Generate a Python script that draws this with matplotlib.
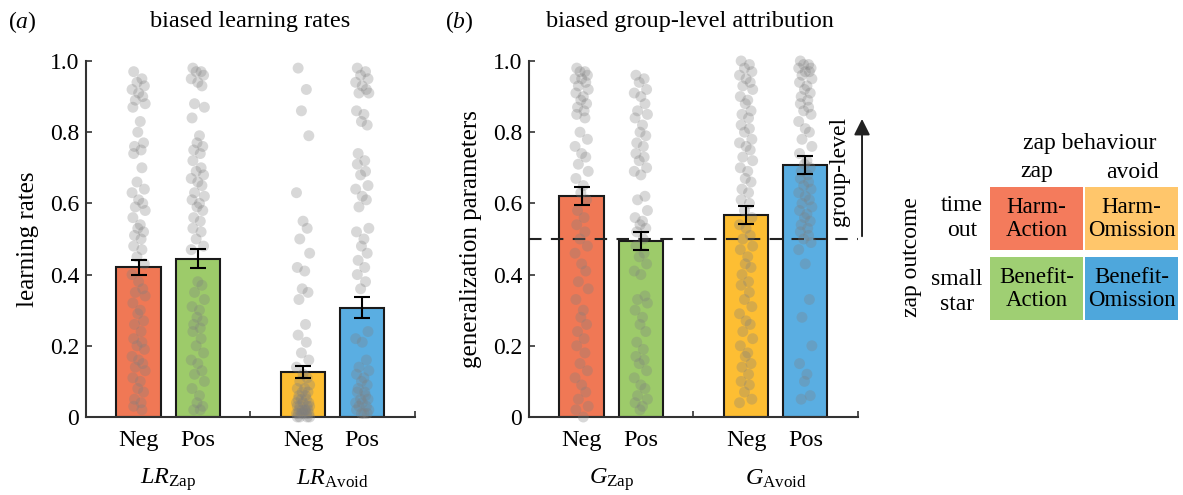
import numpy as np
import matplotlib.pyplot as plt
from matplotlib.patches import Rectangle
from matplotlib.transforms import blended_transform_factory

plt.rcParams['font.family'] = ['Liberation Serif', 'DejaVu Serif']
plt.rcParams['mathtext.fontset'] = 'custom'
plt.rcParams['mathtext.rm'] = 'Liberation Serif'
plt.rcParams['mathtext.it'] = 'Liberation Serif:italic'

# ---- data ----
cond_labels = ['Neg', 'Pos', 'Neg', 'Pos']
bar_colors = ['#f07855', '#9dcb6a', '#fdbe33', '#5aaee2']

lr_means = [0.42, 0.445, 0.127, 0.307]
lr_sem = [0.022, 0.027, 0.017, 0.030]
g_means = [0.62, 0.495, 0.568, 0.708]
g_sem = [0.025, 0.025, 0.025, 0.025]

lr_neg_zap = [0.97, 0.95, 0.94, 0.93, 0.92, 0.91, 0.90, 0.89, 0.88, 0.87, 0.83, 0.80, 0.77, 0.76,
              0.75, 0.74, 0.70, 0.66, 0.64, 0.63, 0.61, 0.60, 0.59, 0.58, 0.56, 0.54, 0.53, 0.52,
              0.51, 0.50, 0.48, 0.47, 0.45, 0.43, 0.40, 0.38, 0.36, 0.35, 0.34, 0.32, 0.30, 0.29,
              0.27, 0.26, 0.24, 0.22, 0.21, 0.20, 0.19, 0.17, 0.16, 0.15, 0.14, 0.13, 0.11, 0.10,
              0.08, 0.07, 0.05, 0.04, 0.03, 0.02]
lr_pos_zap = [0.98, 0.97, 0.97, 0.96, 0.95, 0.94, 0.93, 0.88, 0.87, 0.84, 0.79, 0.77, 0.76, 0.75,
              0.74, 0.72, 0.70, 0.69, 0.68, 0.67, 0.66, 0.65, 0.63, 0.62, 0.61, 0.60, 0.59, 0.58,
              0.56, 0.55, 0.53, 0.52, 0.50, 0.48, 0.47, 0.38, 0.37, 0.35, 0.33, 0.31, 0.30, 0.28,
              0.27, 0.26, 0.25, 0.24, 0.22, 0.20, 0.18, 0.16, 0.15, 0.13, 0.12, 0.10, 0.08, 0.06,
              0.04, 0.03, 0.02, 0.02]
lr_neg_avoid = [0.98, 0.92, 0.86, 0.79, 0.63, 0.55, 0.53, 0.50, 0.46, 0.42, 0.41, 0.36, 0.35, 0.33,
                0.26, 0.23, 0.21, 0.18, 0.16, 0.14, 0.12, 0.11, 0.10, 0.09, 0.08, 0.08, 0.07, 0.07,
                0.06, 0.06, 0.05, 0.05, 0.05, 0.04, 0.04, 0.04, 0.03, 0.03, 0.03, 0.03, 0.02, 0.02,
                0.02, 0.02, 0.02, 0.01, 0.01, 0.01, 0.01, 0.01, 0.01, 0.0, 0.0, 0.0, 0.0]
lr_pos_avoid = [0.98, 0.97, 0.96, 0.95, 0.94, 0.93, 0.92, 0.91, 0.91, 0.86, 0.85, 0.83, 0.82, 0.74,
                0.72, 0.71, 0.69, 0.68, 0.65, 0.64, 0.62, 0.61, 0.59, 0.53, 0.52, 0.50, 0.48, 0.46,
                0.44, 0.42, 0.40, 0.38, 0.36, 0.24, 0.22, 0.21, 0.16, 0.14, 0.13, 0.12, 0.11, 0.10,
                0.09, 0.08, 0.07, 0.07, 0.06, 0.05, 0.05, 0.04, 0.04, 0.03, 0.03, 0.02, 0.02, 0.01,
                0.01, 0.01]

g_neg_zap = [0.98, 0.97, 0.97, 0.96, 0.95, 0.95, 0.94, 0.93, 0.92, 0.91, 0.90, 0.89, 0.88, 0.87,
             0.86, 0.85, 0.84, 0.80, 0.78, 0.76, 0.74, 0.73, 0.71, 0.69, 0.67, 0.65, 0.63, 0.61,
             0.58, 0.56, 0.54, 0.52, 0.50, 0.48, 0.46, 0.43, 0.41, 0.38, 0.36, 0.33, 0.30, 0.28,
             0.26, 0.24, 0.22, 0.20, 0.18, 0.15, 0.13, 0.11, 0.09, 0.07, 0.05, 0.03, 0.02, 0.0]
g_pos_zap = [0.96, 0.95, 0.94, 0.92, 0.91, 0.90, 0.88, 0.86, 0.85, 0.84, 0.82, 0.80, 0.79, 0.77,
             0.76, 0.74, 0.73, 0.72, 0.70, 0.69, 0.68, 0.62, 0.61, 0.58, 0.56, 0.55, 0.54, 0.53,
             0.52, 0.50, 0.48, 0.46, 0.45, 0.43, 0.41, 0.40, 0.34, 0.33, 0.32, 0.30, 0.28, 0.26,
             0.24, 0.21, 0.19, 0.17, 0.16, 0.15, 0.13, 0.11, 0.09, 0.08, 0.06, 0.05, 0.04, 0.03,
             0.02]
g_neg_avoid = [1.0, 0.99, 0.98, 0.97, 0.96, 0.95, 0.94, 0.93, 0.92, 0.90, 0.89, 0.88, 0.86, 0.85,
               0.84, 0.82, 0.81, 0.80, 0.78, 0.77, 0.76, 0.75, 0.73, 0.72, 0.70, 0.69, 0.67, 0.66,
               0.64, 0.63, 0.61, 0.60, 0.58, 0.56, 0.54, 0.53, 0.51, 0.50, 0.48, 0.47, 0.45, 0.43,
               0.42, 0.40, 0.38, 0.37, 0.35, 0.33, 0.31, 0.29, 0.27, 0.26, 0.24, 0.22, 0.20, 0.18,
               0.17, 0.15, 0.14, 0.12, 0.10, 0.09, 0.07, 0.05, 0.04]
g_pos_avoid = [1.0, 0.99, 0.99, 0.98, 0.98, 0.97, 0.97, 0.96, 0.95, 0.94, 0.93, 0.92, 0.91, 0.90,
               0.89, 0.88, 0.87, 0.86, 0.85, 0.83, 0.81, 0.80, 0.78, 0.76, 0.74, 0.72, 0.71, 0.70,
               0.69, 0.68, 0.67, 0.66, 0.65, 0.64, 0.63, 0.62, 0.61, 0.60, 0.59, 0.58, 0.57, 0.56,
               0.55, 0.54, 0.53, 0.52, 0.51, 0.50, 0.49, 0.47, 0.43, 0.33, 0.28, 0.20, 0.15, 0.12,
               0.10, 0.06, 0.05]

jitter = [-0.03, 0.02, -0.01, 0.035, -0.04, 0.0, 0.025, -0.02, 0.04, -0.035, 0.01, -0.005, 0.03,
          -0.025, 0.015]

lr_points = [lr_neg_zap, lr_pos_zap, lr_neg_avoid, lr_pos_avoid]
g_points = [g_neg_zap, g_pos_zap, g_neg_avoid, g_pos_avoid]

xpos = [0.82, 1.18, 1.82, 2.18]
group_x = [1.0, 2.0]


def draw_panel(ax, means, sems, points, ylabel, group_labels):
    ax.bar(xpos, means, width=0.27, color=bar_colors, edgecolor='#1a1a1a', linewidth=1.5, zorder=2)
    for x, pts in zip(xpos, points):
        jx = [x + jitter[i % len(jitter)] for i in range(len(pts))]
        ax.scatter(jx, pts, s=62, color='#7f7f7f', alpha=0.3, edgecolors='none', zorder=4,
                   clip_on=False)
    ax.errorbar(xpos, means, yerr=sems, fmt='none', ecolor='black', elinewidth=1.5, capsize=5.5,
                capthick=1.5, zorder=5)
    ax.set_xlim(0.5, 2.5)
    ax.set_ylim(0, 1)
    ax.set_yticks([0, 0.2, 0.4, 0.6, 0.8, 1.0])
    ax.set_yticklabels(['0', '0.2', '0.4', '0.6', '0.8', '1.0'], fontsize=17)
    ax.set_xticks([0.5, 1.5, 2.5])
    ax.set_xticklabels([])
    ax.tick_params(direction='in', length=4, width=1.2, color='#333333', pad=5)
    for s in ['top', 'right']:
        ax.spines[s].set_visible(False)
    for s in ['left', 'bottom']:
        ax.spines[s].set_color('#333333')
        ax.spines[s].set_linewidth(1.5)
    ax.set_ylabel(ylabel, fontsize=18, labelpad=8)
    tr = blended_transform_factory(ax.transData, ax.transAxes)
    for x, lab in zip(xpos, cond_labels):
        ax.text(x, -0.067, lab, transform=tr, ha='center', va='center', fontsize=17.5)
    for x, lab in zip(group_x, group_labels):
        ax.text(x, -0.175, lab, transform=tr, ha='center', va='center', fontsize=17.5)


fig = plt.figure(figsize=(11.83, 4.95), dpi=100)
ax1 = fig.add_axes([0.0727, 0.1576, 0.278, 0.7192])
ax2 = fig.add_axes([0.4472, 0.1576, 0.278, 0.7192])

draw_panel(ax1, lr_means, lr_sem, lr_points, 'learning rates',
           [r'$LR_{\mathrm{Zap}}$', r'$LR_{\mathrm{Avoid}}$'])
draw_panel(ax2, g_means, g_sem, g_points, 'generalization parameters',
           [r'$G_{\mathrm{Zap}}$', r'$G_{\mathrm{Avoid}}$'])

# reference line and arrow in panel b
ax2.plot([0.5, 2.5], [0.5, 0.5], linestyle=(0, (6, 4.5)), color='#222222', linewidth=1.5, zorder=3,
         clip_on=False)
ax2.annotate('', xy=(2.525, 0.845), xytext=(2.525, 0.5),
             arrowprops=dict(arrowstyle='-|>', color='#222222', lw=1.4, mutation_scale=24),
             annotation_clip=False)
ax2.text(2.39, 0.69, 'group-level', rotation=90, ha='center', va='center', fontsize=17)

# overlay for titles and the legend table (pixel coordinates)
ov = fig.add_axes([0, 0, 1, 1])
ov.set_xlim(0, 1183)
ov.set_ylim(495, 0)
ov.axis('off')
ov.patch.set_alpha(0)

ov.text(8, 22, r'($a$)', fontsize=17, ha='left', va='center')
ov.text(250, 22, 'biased learning rates', fontsize=17.5, ha='center', va='center')
ov.text(445, 22, r'($b$)', fontsize=17, ha='left', va='center')
ov.text(690, 22, 'biased group-level attribution', fontsize=17.5, ha='center', va='center')

cells = [
    (990, 187, '#f47b5c', 'Harm-\nAction'),
    (1085, 187, '#ffc66b', 'Harm-\nOmission'),
    (990, 257, '#9fcf73', 'Benefit-\nAction'),
    (1085, 257, '#4ea7dc', 'Benefit-\nOmission'),
]
for x0, y0, col, lab in cells:
    ov.add_patch(Rectangle((x0, y0), 93, 63, facecolor=col, edgecolor='none'))
    ov.text(x0 + 46.5, y0 + 32, lab, ha='center', va='center', fontsize=16.5, linespacing=1.12)

ov.text(1090, 143, 'zap behaviour', ha='center', va='center', fontsize=17)
ov.text(1037, 172, 'zap', ha='center', va='center', fontsize=17)
ov.text(1132, 172, 'avoid', ha='center', va='center', fontsize=17)
ov.text(962, 218, 'time\nout', ha='center', va='center', fontsize=17, linespacing=1.2)
ov.text(957, 292, 'small\nstar', ha='center', va='center', fontsize=17, linespacing=1.2)
ov.text(912, 257, 'zap outcome', rotation=90, ha='center', va='center', fontsize=17)

fig.savefig('out.png', dpi=100)
